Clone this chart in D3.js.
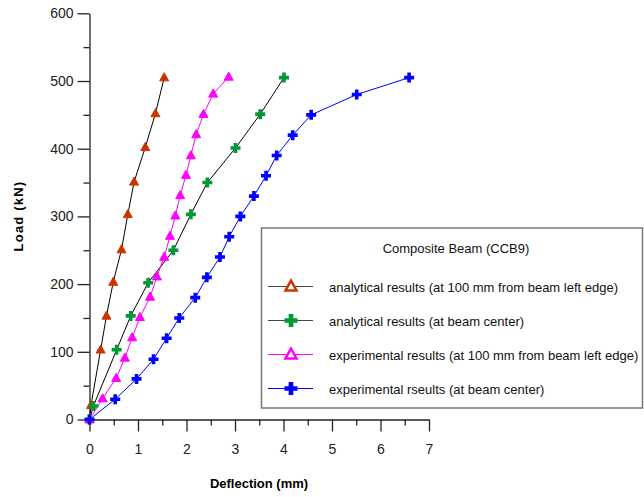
<!DOCTYPE html>
<html>
<head>
    <script src="https://d3js.org/d3.v7.min.js"></script>
    <style>
        body { margin: 0; background: #fff; font-family: "Liberation Sans", Arial, sans-serif; }
    </style>
</head>
<body>
<div id="chart"></div>
<script>
    // deflection (mm) / load (kN)
    const anaEdgeX = [0, 0.03, 0.23, 0.35, 0.49, 0.66, 0.79, 0.92, 1.15, 1.36, 1.54];
    const anaEdgeY = [0, 21, 103, 153, 203, 251, 303, 351, 402, 452, 505];

    const anaCenterX = [0, 0.08, 0.56, 0.85, 1.21, 1.73, 2.09, 2.43, 3.01, 3.52, 4.01];
    const anaCenterY = [0, 20, 103, 153, 202, 250, 303, 350, 401, 451, 505];

    const expEdgeX = [0, 0.27, 0.55, 0.73, 0.88, 1.04, 1.25, 1.39, 1.54, 1.66, 1.77, 1.87, 1.99, 2.09, 2.20, 2.35, 2.55, 2.87];
    const expEdgeY = [0, 31, 61, 91, 121, 151, 181, 211, 240, 271, 301, 331, 361, 390, 421, 451, 481, 506];

    const expCenterX = [0, 0.53, 0.97, 1.32, 1.59, 1.85, 2.18, 2.42, 2.69, 2.88, 3.11, 3.39, 3.64, 3.86, 4.19, 4.57, 5.51, 6.59];
    const expCenterY = [0, 30, 60, 89, 120, 150, 180, 210, 240, 270, 300, 330, 360, 390, 420, 450, 480, 505];

    const xTicks = [0, 1, 2, 3, 4, 5, 6, 7];
    const yTicks = [0, 100, 200, 300, 400, 500, 600];

    const series = [
        { name: "analytical results (at 100 mm from beam left edge)", xs: anaEdgeX, ys: anaEdgeY, line: "#000", color: "#cc3300", shape: "tri" },
        { name: "analytical results (at beam center)", xs: anaCenterX, ys: anaCenterY, line: "#000", color: "#009933", shape: "cross" },
        { name: "experimental results (at 100 mm from beam left edge)", xs: expEdgeX, ys: expEdgeY, line: "#ff00ff", color: "#ff00ff", shape: "tri" },
        { name: "experimental rseults (at beam center)", xs: expCenterX, ys: expCenterY, line: "#0000ff", color: "#0000ff", shape: "cross" }
    ];

    const width = 644, height = 497;
    const x = d3.scaleLinear().domain([0, 7]).range([89.5, 429]);
    const y = d3.scaleLinear().domain([0, 600]).range([419.5, 13.3]);

    const svg = d3.select("#chart").append("svg")
        .attr("width", width)
        .attr("height", height);

    function drawMarker(g, shape, color, size, hollow) {
        if (shape === "tri") {
            const h = size * 0.9;
            g.append("path")
                .attr("d", `M0,${-h * 0.6}L${size / 2},${h * 0.4}L${-size / 2},${h * 0.4}Z`)
                .attr("fill", hollow ? "#fff" : color)
                .attr("stroke", color)
                .attr("stroke-width", hollow ? 2.5 : 1)
                .attr("stroke-linejoin", "miter");
        } else {
            const a = size / 2;
            g.append("path")
                .attr("d", `M${-a},0H${a}M0,${-a}V${a}`)
                .attr("stroke", color)
                .attr("stroke-width", size * 0.36);
        }
    }

    // minor ticks
    svg.append("g")
        .attr("transform", "translate(0," + y(0) + ")")
        .call(d3.axisBottom(x).tickValues(d3.range(0.5, 7, 1)).tickSize(6).tickFormat(""))
        .call(g => g.select(".domain").remove());
    svg.append("g")
        .attr("transform", "translate(" + x(0) + ",0)")
        .call(d3.axisLeft(y).tickValues(d3.range(50, 600, 100)).tickSize(6).tickFormat(""))
        .call(g => g.select(".domain").remove());

    svg.append("g")
        .attr("transform", "translate(0," + y(0) + ")")
        .call(d3.axisBottom(x).tickValues(xTicks).tickFormat(d3.format("d"))
            .tickSizeInner(12).tickSizeOuter(0).tickPadding(13));
    svg.append("g")
        .attr("transform", "translate(" + x(0) + ",0)")
        .call(d3.axisLeft(y).tickValues(yTicks).tickFormat(d3.format("d"))
            .tickSizeInner(12).tickSizeOuter(0).tickPadding(4));

    svg.selectAll(".tick line, .domain").attr("stroke", "#222").attr("stroke-width", 1.3);
    svg.selectAll(".tick text")
        .attr("font-family", "Liberation Sans, Arial, sans-serif")
        .attr("font-size", 14)
        .attr("fill", "#222");

    // axis titles
    svg.append("text")
        .attr("x", 259).attr("y", 488)
        .attr("text-anchor", "middle")
        .attr("font-size", 13).attr("font-weight", "bold")
        .text("Deflection (mm)");
    svg.append("text")
        .attr("transform", "translate(23,216) rotate(-90)")
        .attr("text-anchor", "middle")
        .attr("font-size", 13).attr("font-weight", "bold")
        .attr("letter-spacing", 1.2)
        .text("Load (kN)");

    const line = d3.line().x(d => x(d[0])).y(d => y(d[1]));

    series.forEach(s => {
        const pts = s.xs.map((v, i) => [v, s.ys[i]]);
        svg.append("path")
            .datum(pts)
            .attr("d", line)
            .attr("fill", "none")
            .attr("stroke", s.line)
            .attr("stroke-width", 1);
    });
    series.forEach(s => {
        const pts = s.xs.map((v, i) => [v, s.ys[i]]);
        pts.forEach(p => {
            const g = svg.append("g").attr("transform", `translate(${x(p[0])},${y(p[1])})`);
            drawMarker(g, s.shape, s.color, s.shape === "tri" ? 9 : 10, false);
        });
    });

    // legend
    const leg = svg.append("g");
    leg.append("rect")
        .attr("x", 261.5).attr("y", 228)
        .attr("width", 381).attr("height", 180)
        .attr("fill", "#fff")
        .attr("stroke", "#777").attr("stroke-width", 1.5);
    leg.append("text")
        .attr("x", 456).attr("y", 253)
        .attr("text-anchor", "middle")
        .attr("font-size", 13).attr("fill", "#111")
        .text("Composite Beam (CCB9)");
    const rowY = [286.5, 320.5, 354.5, 388.5];
    series.forEach((s, i) => {
        const r = leg.append("g").attr("transform", `translate(0,${rowY[i]})`);
        r.append("line")
            .attr("x1", 268).attr("x2", 313)
            .attr("stroke", s.line === "#000" ? "#444" : s.line).attr("stroke-width", 1);
        const m = r.append("g").attr("transform", "translate(291,0)");
        drawMarker(m, s.shape, s.color, s.shape === "tri" ? 11 : 13, s.shape === "tri");
        r.append("text")
            .attr("x", 329).attr("y", 5)
            .attr("font-size", 13).attr("fill", "#111")
            .text(s.name);
    });
</script>
</body>
</html>
